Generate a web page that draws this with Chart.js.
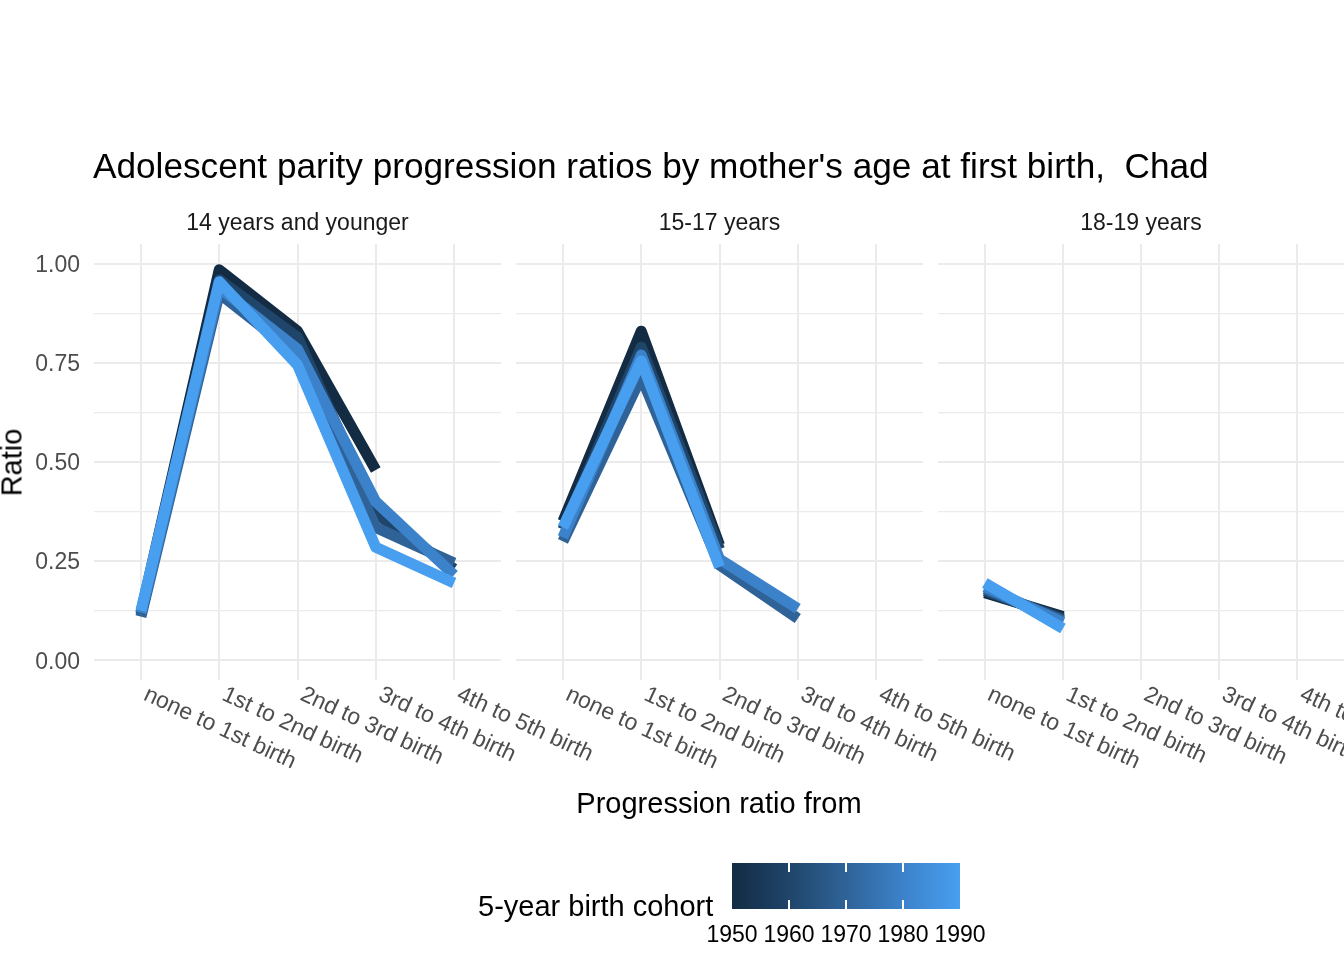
<!DOCTYPE html>
<html>
<head>
<meta charset="utf-8">
<script src="https://cdn.jsdelivr.net/npm/chart.js@4.4.1/dist/chart.umd.min.js"></script>
<style>
  body { margin: 0; background: #fff; }
  #wrap { position: relative; width: 1344px; height: 960px; overflow: hidden; font-family: "Liberation Sans", Arial, sans-serif; }
  #wrap canvas { position: absolute; left: 0; top: 0; }
  .txt { position: absolute; white-space: pre; }
</style>
</head>
<body>
<div id="wrap">
  <canvas id="p0" width="1344" height="960"></canvas>
  <canvas id="p1" width="1344" height="960"></canvas>
  <canvas id="p2" width="1344" height="960"></canvas>
</div>
<script>
// categories / series
const xCategories = ['none to 1st birth', '1st to 2nd birth', '2nd to 3rd birth', '3rd to 4th birth', '4th to 5th birth'];
const panelNames = ['14 years and younger', '15-17 years', '18-19 years'];
const cohorts = [1950, 1960, 1970, 1980, 1990];
const cohortColors = ['#132B43', '#1F456A', '#2F6398', '#3C82CA', '#489FF0'];

// one row per cohort (1950 ... 1990)
const ratios14 = [
  [0.12, 0.985, 0.83, 0.48, null],
  [0.115, 0.96, 0.815, 0.37, 0.23],
  [0.11, 0.925, 0.77, 0.335, 0.245],
  [0.12, 0.94, 0.785, 0.40, 0.215],
  [0.125, 0.955, 0.745, 0.285, 0.195]
];
const ratios15 = [
  [0.35, 0.83, 0.29, null, null],
  [0.33, 0.79, 0.28, null, null],
  [0.30, 0.715, 0.24, 0.105, null],
  [0.31, 0.77, 0.255, 0.13, null],
  [0.335, 0.755, 0.235, null, null]
];
const ratios18 = [
  [0.17, 0.11, null, null, null],
  [0.175, 0.105, null, null, null],
  [0.18, 0.10, null, null, null],
  [0.185, 0.095, null, null, null],
  [0.195, 0.08, null, null, null]
];

const yMajor = [0, 0.25, 0.5, 0.75, 1];
const yLabels = ['0.00', '0.25', '0.50', '0.75', '1.00'];
const yGrid = [0, 0.125, 0.25, 0.375, 0.5, 0.625, 0.75, 0.875, 1];
const legendTicks = [1950, 1960, 1970, 1980, 1990];

// layout
const W = 1344, H = 960;
const panelLeft = [94, 516, 938];
const panelRight = [501, 923, 1344];
const panelTop = 244, panelBottom = 680;
const FONT = '"Liberation Sans", Arial, sans-serif';
const wrap = document.getElementById('wrap');

function addText(txt, css) {
  const d = document.createElement('div');
  d.className = 'txt';
  d.textContent = txt;
  Object.assign(d.style, css);
  wrap.appendChild(d);
  return d;
}

// rotated category labels, anchored at each tick of the x scale
const xLabelPlugin = {
  id: 'xlabels',
  afterDraw(chart) {
    const { ctx, chartArea } = chart;
    const sx = chart.scales.x;
    ctx.save();
    ctx.font = '23px ' + FONT;
    ctx.fillStyle = '#4D4D4D';
    ctx.textAlign = 'left';
    ctx.textBaseline = 'top';
    xCategories.forEach((lab, j) => {
      ctx.save();
      ctx.translate(sx.getPixelForValue(j) + 9, chartArea.bottom + 3);
      ctx.rotate(25 * Math.PI / 180);
      ctx.fillText(lab, 0, 0);
      ctx.restore();
    });
    ctx.restore();
  }
};

function makePanel(idx, series) {
  const first = idx === 0;
  const datasets = cohorts.map((c, k) => ({
    label: String(c),
    data: series[k].map((v, j) => ({ x: j, y: v })),
    borderColor: cohortColors[k],
    borderWidth: 11,
    borderCapStyle: 'butt',
    borderJoinStyle: 'round',
    pointRadius: 0,
    fill: false,
    tension: 0,
    spanGaps: false,
    order: cohorts.length - k
  }));

  const chart = new Chart(document.getElementById('p' + idx), {
    type: 'line',
    data: { datasets },
    options: {
      responsive: false,
      animation: false,
      events: [],
      clip: false,
      layout: {
        padding: { left: first ? 0 : panelLeft[idx], right: W - panelRight[idx], top: panelTop, bottom: H - panelBottom }
      },
      plugins: { legend: { display: false }, tooltip: { enabled: false } },
      scales: {
        x: {
          type: 'linear',
          min: -0.6,
          max: 4.6,
          afterBuildTicks: s => { s.ticks = xCategories.map((_, j) => ({ value: j })); },
          ticks: { display: false },
          grid: { color: '#EBEBEB', lineWidth: 2, drawTicks: false },
          border: { display: false },
          afterFit: s => { s.height = 0; }
        },
        y: {
          type: 'linear',
          min: -0.05,
          max: 1.05,
          afterBuildTicks: s => { s.ticks = yGrid.map(v => ({ value: v })); },
          ticks: {
            display: first,
            padding: 14,
            labelOffset: 2,
            color: '#4D4D4D',
            font: { family: FONT, size: 23 },
            callback: v => { const m = yMajor.indexOf(v); return m >= 0 ? yLabels[m] : ''; }
          },
          grid: {
            color: '#EBEBEB',
            drawTicks: false,
            lineWidth: c => (yMajor.indexOf(c.tick.value) >= 0 ? 2 : 1.2)
          },
          border: { display: false },
          afterFit: s => { s.width = first ? panelLeft[0] : 0; }
        }
      }
    },
    plugins: [xLabelPlugin]
  });

  const a = chart.chartArea;
  addText(panelNames[idx], {
    left: ((a.left + a.right) / 2) + 'px', top: '211px', fontSize: '23px', lineHeight: '23px',
    color: '#1A1A1A', transform: 'translateX(-50%)'
  });
  return chart;
}

makePanel(0, ratios14);
makePanel(1, ratios15);
makePanel(2, ratios18);

// titles
addText("Adolescent parity progression ratios by mother's age at first birth,  Chad",
  { left: '93px', top: '148px', fontSize: '35.2px', lineHeight: '35px', color: '#000' });
addText('Progression ratio from',
  { left: ((panelLeft[0] + W) / 2) + 'px', top: '789px', fontSize: '29px', lineHeight: '29px', color: '#000', transform: 'translateX(-50%)' });
addText('Ratio',
  { left: '-38px', top: '448px', width: '100px', textAlign: 'center', fontSize: '29px', lineHeight: '29px', color: '#000', transform: 'rotate(-90deg)' });

// colour bar legend
const barL = 732, barW = 228, barT = 863, barH = 46;
const bar = document.createElement('div');
Object.assign(bar.style, {
  position: 'absolute', left: barL + 'px', top: barT + 'px', width: barW + 'px', height: barH + 'px',
  background: 'linear-gradient(to right, ' + cohortColors.map((c, k) => c + ' ' + (k * 100 / (cohortColors.length - 1)) + '%').join(', ') + ')'
});
wrap.appendChild(bar);
const cMin = cohorts[0], cMax = cohorts[cohorts.length - 1];
legendTicks.forEach(v => {
  const x = barL + (v - cMin) / (cMax - cMin) * barW;
  if (v > cMin && v < cMax) {
    [barT, barT + barH - 9].forEach(t => {
      const tk = document.createElement('div');
      Object.assign(tk.style, { position: 'absolute', left: (x - 0.75) + 'px', top: t + 'px', width: '1.5px', height: '9px', background: '#fff' });
      wrap.appendChild(tk);
    });
  }
  addText(String(v), { left: x + 'px', top: '923px', fontSize: '23px', lineHeight: '23px', color: '#000', transform: 'translateX(-50%)' });
});
addText('5-year birth cohort', { left: '478px', top: '892px', fontSize: '29px', lineHeight: '29px', color: '#000' });
</script>
</body>
</html>
